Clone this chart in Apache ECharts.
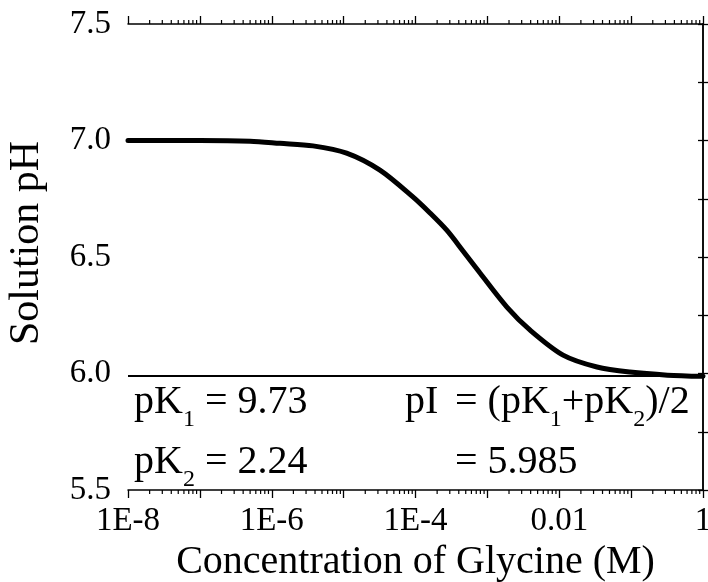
<!DOCTYPE html>
<html>
<head>
<meta charset="utf-8">
<script src="https://cdn.jsdelivr.net/npm/echarts@6/dist/echarts.min.js"></script>
<style>
  html, body { margin: 0; padding: 0; background: #ffffff; }
  #chart { width: 708px; height: 582px; }
</style>
</head>
<body>
<div id="chart"></div>
<script>
// Glycine solution: pH against analytical concentration (mol/L)
const concentrationM = [1e-8, 1e-7, 5e-7, 1.3e-6, 3.75e-6, 1.1e-5, 3.2e-5, 9.2e-5, 1.59e-4, 2.74e-4, 4.58e-4, 7.9e-4, 1.87e-3, 3.9e-3, 1.13e-2, 3.35e-2, 9.6e-2, 0.32, 1];
const solutionPH     = [7.000, 7.000, 6.997, 6.988, 6.977, 6.946, 6.873, 6.758, 6.689, 6.614, 6.526, 6.431, 6.285, 6.187, 6.079, 6.028, 6.006, 5.993, 5.988];

// isoelectric point, pI = (pK1 + pK2) / 2
const pK1 = 9.73;
const pK2 = 2.24;
const pI = 5.985;

// decade exponents that carry a label on the concentration axis
const xTickLabels = { '-8': '1E-8', '-6': '1E-6', '-4': '1E-4', '-2': '0.01', '0': '1' };
const yTickValues = [5.5, 6.0, 6.5, 7.0, 7.5];

const FONT = "'Liberation Serif', 'Times New Roman', serif";
const X_MIN = -8, X_MAX = 0;

// logarithmic minor tick positions (2..9 within each decade)
const minorTicks = [];
for (let n = X_MIN; n < X_MAX; n++) {
  for (let k = 2; k <= 9; k++) minorTicks.push(n + Math.log10(k));
}

const curve = concentrationM.map((c, i) => [Math.log10(c), solutionPH[i]]);

const chart = echarts.init(document.getElementById('chart'), null, { renderer: 'canvas' });

const axisLine = { show: true, lineStyle: { color: '#000', width: 1.5 } };

chart.setOption({
  animation: false,
  backgroundColor: '#ffffff',
  grid: { left: 128, right: 5, top: 24, bottom: 92, containLabel: false, outerBoundsMode: 'none' },
  xAxis: [
    {
      type: 'value', position: 'bottom', min: X_MIN, max: X_MAX, interval: 1,
      axisLine: axisLine,
      axisTick: { show: true, inside: false, length: 8, lineStyle: { color: '#000', width: 1.3 } },
      splitLine: { show: false },
      axisLabel: {
        show: true, margin: 15, color: '#000', fontFamily: FONT, fontSize: 33,
        formatter: v => xTickLabels[String(Math.round(v))] || '',
        showMinLabel: true, showMaxLabel: true
      },
      name: 'Concentration of Glycine (M)',
      nameLocation: 'middle', nameGap: 51,
      nameTextStyle: { color: '#000', fontFamily: FONT, fontSize: 40 }
    },
    {
      type: 'value', position: 'top', min: X_MIN, max: X_MAX, interval: 1,
      axisLine: axisLine,
      axisTick: { show: true, inside: false, length: 8, lineStyle: { color: '#000', width: 1.3 } },
      splitLine: { show: false },
      axisLabel: { show: false }
    }
  ],
  yAxis: [
    {
      type: 'value', position: 'left', min: 5.5, max: 7.5, interval: 0.5,
      axisLine: axisLine,
      axisTick: { show: true, inside: false, length: 5, lineStyle: { color: '#000', width: 1.3 } },
      minorTick: { show: true, splitNumber: 2, length: 5, lineStyle: { color: '#000', width: 1.3 } },
      splitLine: { show: false },
      axisLabel: {
        show: true, margin: 17, color: '#000', fontFamily: FONT, fontSize: 33,
        formatter: v => yTickValues.indexOf(Math.round(v * 10) / 10) >= 0 ? v.toFixed(1) : ''
      },
      name: 'Solution pH',
      nameLocation: 'middle', nameGap: 80,
      nameTextStyle: { color: '#000', fontFamily: FONT, fontSize: 42, padding: [0, 0, 0, 28] }
    },
    {
      type: 'value', position: 'right', min: 5.5, max: 7.5, interval: 0.5,
      axisLine: axisLine,
      axisTick: { show: true, inside: false, length: 5, lineStyle: { color: '#000', width: 1.3 } },
      minorTick: { show: true, splitNumber: 2, length: 5, lineStyle: { color: '#000', width: 1.3 } },
      splitLine: { show: false },
      axisLabel: { show: false }
    }
  ],
  series: [
    {
      type: 'line', name: 'pH', xAxisIndex: 0, yAxisIndex: 0,
      data: curve, smooth: 0.3, showSymbol: false, silent: true,
      lineStyle: { color: '#000', width: 5, cap: 'round' },
      markLine: {
        silent: true, symbol: 'none', animation: false,
        label: { show: false },
        lineStyle: { color: '#000', width: 2, type: 'solid' },
        data: [{ yAxis: pI }]
      }
    },
    {
      // logarithmic minor ticks on the bottom and top concentration axes
      type: 'custom', xAxisIndex: 0, yAxisIndex: 0, silent: true, clip: false,
      data: minorTicks.map(v => [v, 5.5]),
      encode: { x: 0, y: 1 },
      renderItem: function (params, api) {
        const x = api.coord([api.value(0), 5.5])[0];
        const cs = params.coordSys;
        const st = { stroke: '#000', lineWidth: 1.2 };
        return {
          type: 'group',
          children: [
            { type: 'line', shape: { x1: x, y1: cs.y + cs.height, x2: x, y2: cs.y + cs.height + 4 }, style: st },
            { type: 'line', shape: { x1: x, y1: cs.y, x2: x, y2: cs.y - 4 }, style: st }
          ]
        };
      }
    }
  ],
  graphic: (function () {
    const base = { fill: '#000', fontFamily: FONT, fontSize: 40, verticalAlign: 'top', align: 'left' };
    const rich = {
      m: { fontFamily: FONT, fontSize: 40, lineHeight: 40, verticalAlign: 'top', color: '#000' },
      s: { fontFamily: FONT, fontSize: 24, lineHeight: 22, verticalAlign: 'top', padding: [26, 0, 0, 0], color: '#000' }
    };
    function txt(x, y, text) {
      return { type: 'text', left: x, top: y, silent: true, style: Object.assign({ text: text, rich: rich }, base) };
    }
    return [
      txt(134, 382, '{m|pK}{s|1}{m| = ' + pK1.toFixed(2) + '}'),
      txt(134, 442, '{m|pK}{s|2}{m| = ' + pK2.toFixed(2) + '}'),
      txt(405, 382, '{m|pI}'),
      txt(455, 382, '{m|= (pK}{s|1}{m|+pK}{s|2}{m|)/2}'),
      txt(455, 442, '{m|= ' + pI.toFixed(3) + '}')
    ];
  })()
});
</script>
</body>
</html>
